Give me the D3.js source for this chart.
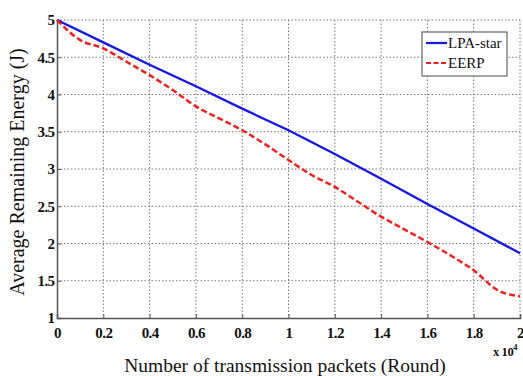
<!DOCTYPE html>
<html>
<head>
<meta charset="utf-8">
<script src="https://cdn.jsdelivr.net/npm/d3@7"></script>
<style>
  body { margin: 0; background: #fff; }
</style>
</head>
<body>
<svg id="chart" width="523" height="376"></svg>
<script>
// data (x in units of 10^4 rounds)
var roundsLPA = [0, 0.2, 0.4, 0.6, 0.8, 1.0, 1.2, 1.4, 1.6, 1.8, 2.0];
var energyLPA = [5.0, 4.70, 4.40, 4.11, 3.81, 3.52, 3.20, 2.87, 2.53, 2.20, 1.87];

var roundsEERP = [0, 0.1, 0.2, 0.3, 0.4, 0.5, 0.6, 0.7, 0.8, 0.9, 1.0,
                  1.1, 1.2, 1.3, 1.4, 1.5, 1.6, 1.7, 1.8, 1.9, 2.0];
var energyEERP = [5.0, 4.73, 4.62, 4.44, 4.26, 4.06, 3.84, 3.68, 3.52, 3.33, 3.12,
                  2.92, 2.76, 2.56, 2.36, 2.19, 2.02, 1.84, 1.64, 1.38, 1.29];

var xTicks = [0, 0.2, 0.4, 0.6, 0.8, 1, 1.2, 1.4, 1.6, 1.8, 2];
var yTicks = [1, 1.5, 2, 2.5, 3, 3.5, 4, 4.5, 5];
var seriesNames = ["LPA-star", "EERP"];

var serif = "'Liberation Serif', 'Times New Roman', Times, serif";
var svg = d3.select("#chart").style("font-family", serif);
var margin = { left: 57, right: 3, top: 20, bottom: 58 };
var w = 523 - margin.left - margin.right;
var h = 376 - margin.top - margin.bottom;

var x = d3.scaleLinear().domain([0, 2]).range([0, w]);
var y = d3.scaleLinear().domain([1, 5]).range([h, 0]);

var g = svg.append("g").attr("transform", "translate(" + margin.left + "," + margin.top + ")");

// grid
g.selectAll(".vgrid").data(xTicks.slice(1)).enter().append("line")
  .attr("x1", d => x(d)).attr("x2", d => x(d))
  .attr("y1", 0).attr("y2", h)
  .style("stroke", "#777").style("stroke-width", 1).style("stroke-dasharray", "1.5,2");
g.selectAll(".hgrid").data(yTicks.slice(1)).enter().append("line")
  .attr("x1", 0).attr("x2", w)
  .attr("y1", d => y(d)).attr("y2", d => y(d))
  .style("stroke", "#777").style("stroke-width", 1).style("stroke-dasharray", "1.5,2");

// axes
var xAxis = g.append("g").attr("transform", "translate(0," + h + ")")
  .call(d3.axisBottom(x).tickValues(xTicks).tickSize(-4).tickPadding(9).tickFormat(d3.format("~g")));
var yAxis = g.append("g")
  .call(d3.axisLeft(y).tickValues(yTicks).tickSize(-4).tickPadding(4).tickFormat(d3.format("~g")));
[xAxis, yAxis].forEach(function(a) {
  a.select(".domain").style("stroke", "#555").style("stroke-width", 1.5);
  a.selectAll(".tick line").style("stroke", "#555");
  a.selectAll(".tick text")
    .style("font-family", serif)
    .style("font-weight", "bold")
    .style("font-size", "15px")
    .style("letter-spacing", "-0.6px")
    .style("fill", "#111");
});
xAxis.selectAll(".tick text").attr("dy", "0.71em");
yAxis.selectAll(".tick text").attr("dx", "0.1em");

// lines
var lineLPA = d3.line().x((d, i) => x(roundsLPA[i])).y(d => y(d));
var lineEERP = d3.line().curve(d3.curveMonotoneX).x((d, i) => x(roundsEERP[i])).y(d => y(d));

g.append("path").datum(energyLPA)
  .attr("d", lineLPA)
  .style("fill", "none").style("stroke", "#1515e6").style("stroke-width", 2.3);
g.append("path").datum(energyEERP)
  .attr("d", lineEERP)
  .style("fill", "none").style("stroke", "#f02020").style("stroke-width", 2.5)
  .style("stroke-dasharray", "6,3");

// legend
var legend = svg.append("g").attr("transform", "translate(422,32)");
legend.append("rect").attr("width", 85).attr("height", 44)
  .style("fill", "#fff").style("stroke", "#666").style("stroke-width", 1.2);
var legendColors = ["#1515e6", "#f02020"];
var legendDash = [null, "5,2.5"];
seriesNames.forEach(function(name, i) {
  var yy = 11 + i * 20;
  legend.append("line").attr("x1", 4).attr("x2", 25).attr("y1", yy).attr("y2", yy)
    .style("stroke", legendColors[i]).style("stroke-width", 2.2)
    .style("stroke-dasharray", legendDash[i]);
  legend.append("text").attr("x", 26).attr("y", yy + 5)
    .style("font-size", "15px").style("fill", "#111").text(name);
});

// axis labels
svg.append("text")
  .attr("x", 285).attr("y", 372)
  .attr("text-anchor", "middle")
  .style("font-size", "19.5px").style("fill", "#111")
  .text("Number of transmission packets (Round)");
svg.append("text")
  .attr("transform", "translate(24,172) rotate(-90)")
  .attr("text-anchor", "middle")
  .style("font-size", "20px").style("fill", "#111")
  .text("Average Remaining Energy (J)");

// exponent label
var expo = svg.append("text").attr("x", 493).attr("y", 356)
  .style("font-size", "12.5px").style("font-weight", "bold").style("fill", "#111")
  .style("letter-spacing", "-0.4px");
expo.append("tspan").text("x 10");
expo.append("tspan").attr("dy", -6).style("font-size", "8.5px").text("4");
</script>
</body>
</html>
